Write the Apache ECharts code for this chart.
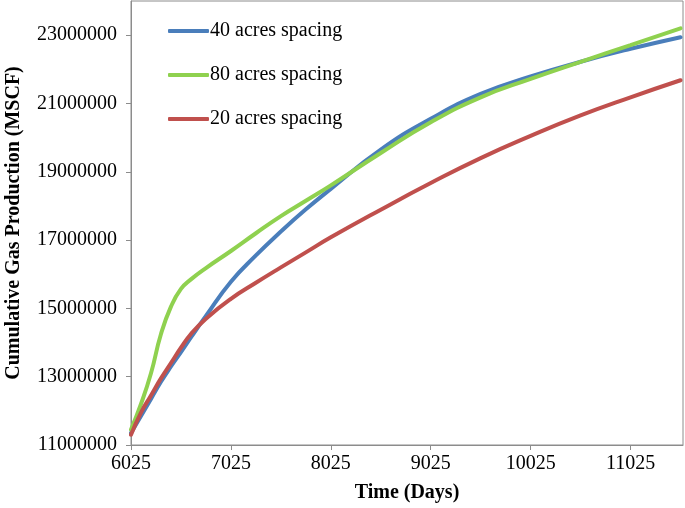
<!DOCTYPE html>
<html>
<head>
<meta charset="utf-8">
<script src="https://cdn.jsdelivr.net/npm/echarts@6/dist/echarts.min.js"></script>
<style>html,body{margin:0;padding:0;background:#fff}#c{width:685px;height:508px}</style>
</head>
<body>
<div id="c"></div>
<script>
var days = [6025, 6125, 6225, 6325, 6425, 6525, 6625, 6775, 7025, 7275, 7525, 7775, 8025, 8525, 9025, 9525, 10025, 10525, 11025, 11525];
var spacing40 = [11350000, 11850000, 12350000, 12850000, 13300000, 13720000, 14150000, 14780000, 15780000, 16550000, 17250000, 17900000, 18500000, 19650000, 20550000, 21280000, 21790000, 22220000, 22600000, 22940000];
var spacing80 = [11450000, 12200000, 13100000, 14250000, 15050000, 15570000, 15850000, 16180000, 16680000, 17200000, 17700000, 18150000, 18600000, 19550000, 20450000, 21180000, 21720000, 22220000, 22710000, 23200000];
var spacing20 = [11300000, 11950000, 12450000, 12950000, 13400000, 13850000, 14250000, 14700000, 15280000, 15750000, 16200000, 16640000, 17080000, 17890000, 18670000, 19400000, 20050000, 20650000, 21180000, 21680000];
var seriesNames = ['40 acres spacing', '80 acres spacing', '20 acres spacing'];
var seriesColors = ['#4A7EBB', '#8FD14F', '#C0504D'];

function pairs(vals){ return days.map(function(d,i){ return [d, vals[i]]; }); }
var font = 'Liberation Serif';
var chart = echarts.init(document.getElementById('c'));
chart.setOption({
  animation: false,
  grid: {left: 131, right: 2, top: 1, bottom: 63, show: true, borderColor: '#8c8c8c', borderWidth: 1,
    containLabel: false, outerBoundsMode: 'none'},
  legend: {
    orient: 'vertical', left: 163, top: 16, itemWidth: 41, itemHeight: 4, itemGap: 24,
    icon: 'roundRect',
    textStyle: {fontFamily: font, fontSize: 20, color: '#000', padding: [0,0,0,-4]},
    data: seriesNames
  },
  xAxis: {
    type: 'value', min: 6025, max: 11550, interval: 1000,
    name: 'Time (Days)', nameLocation: 'middle', nameGap: 38,
    nameTextStyle: {fontFamily: font, fontSize: 20, fontWeight: 'bold', color: '#000'},
    axisLine: {lineStyle: {color: '#8c8c8c'}},
    axisTick: {length: 5, lineStyle: {color: '#8c8c8c'}},
    axisLabel: {fontFamily: font, fontSize: 20, color: '#000', margin: 9, showMaxLabel: false,
      formatter: function(v){ return String(v); }},
    splitLine: {show: false}
  },
  yAxis: {
    type: 'value', min: 11000000, max: 24000000, interval: 2000000,
    name: 'Cumulative Gas Production (MSCF)', nameLocation: 'middle', nameGap: 107, nameRotate: 90,
    nameTextStyle: {fontFamily: font, fontSize: 20, fontWeight: 'bold', color: '#000'},
    axisLine: {show: true, lineStyle: {color: '#8c8c8c'}},
    axisTick: {show: true, length: 5, lineStyle: {color: '#8c8c8c'}},
    axisLabel: {fontFamily: font, fontSize: 20, color: '#000', margin: 14, showMaxLabel: false,
      formatter: function(v){ return String(v); }},
    splitLine: {show: false}
  },
  series: [spacing40, spacing80, spacing20].map(function(v,i){
    return {name: seriesNames[i], type: 'line', data: pairs(v), smooth: true, symbol: 'none',
      color: seriesColors[i], lineStyle: {width: 4, color: seriesColors[i], cap: 'round', join: 'round'}};
  })
});
</script>
</body>
</html>
